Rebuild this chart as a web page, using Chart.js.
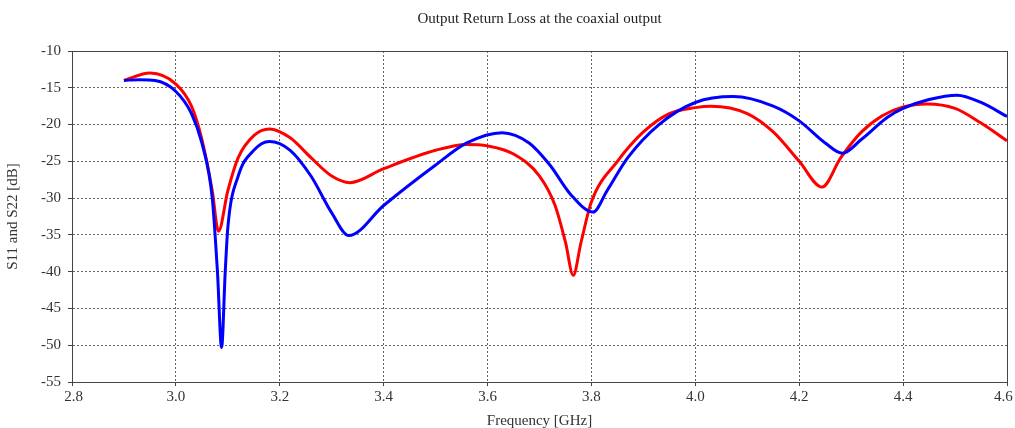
<!DOCTYPE html>
<html>
<head>
<meta charset="utf-8">
<script src="https://cdn.jsdelivr.net/npm/chart.js@4"></script>
<style>
  html, body { margin: 0; padding: 0; background: #fff; }
  #wrap { width: 1015px; height: 428px; }
</style>
</head>
<body>
<div id="wrap"><canvas id="chart"></canvas></div>
<script>
const chartTitle = 'Output Return Loss at the coaxial output';

// red trace
const redFreq = [2.9, 2.95, 3.0, 3.03, 3.05, 3.07, 3.082, 3.1, 3.12, 3.15, 3.18, 3.22, 3.26, 3.3, 3.335, 3.4, 3.5, 3.56, 3.6, 3.65, 3.7, 3.73, 3.75, 3.765, 3.78, 3.8, 3.85, 3.9, 3.95, 4.0, 4.03, 4.1, 4.15, 4.2, 4.244, 4.28, 4.32, 4.36, 4.4, 4.446, 4.5, 4.55, 4.6];
const redDb = [-14, -13, -14.5, -17.5, -22, -29, -34.5, -29, -24.5, -21.5, -20.6, -21.8, -24.5, -27, -27.9, -26, -23.5, -22.7, -22.9, -24, -27, -31, -36, -40.5, -36, -30.5, -25, -21, -18.5, -17.7, -17.5, -18.5, -21, -25, -28.5, -24.5, -21, -18.8, -17.6, -17.2, -17.8, -19.8, -22.2];

// blue trace
const blueFreq = [2.9, 2.93, 2.96, 3.0, 3.03, 3.05, 3.07, 3.08, 3.088, 3.095, 3.1, 3.12, 3.15, 3.18, 3.22, 3.26, 3.3, 3.333, 3.4, 3.5, 3.56, 3.628, 3.68, 3.72, 3.76, 3.803, 3.83, 3.87, 3.93, 4.0, 4.073, 4.15, 4.2, 4.25, 4.283, 4.32, 4.37, 4.4, 4.45, 4.504, 4.55, 4.6];
const blueDb = [-14, -13.9, -14, -15.5, -18.5, -22.5, -30, -40, -50.3, -40, -34, -27, -23.5, -22.3, -23.5, -27, -32, -35.1, -31, -25.5, -22.5, -21.1, -22.5, -25.5, -29.5, -31.9, -29, -24.5, -20, -17, -16.2, -17.5, -19.5, -22.5, -23.9, -22, -19, -17.8, -16.6, -16, -17, -18.9];

const xTicks = [2.8, 3.0, 3.2, 3.4, 3.6, 3.8, 4.0, 4.2, 4.4, 4.6];

const toPoints = (xs, ys) => xs.map((x, i) => ({x: x, y: ys[i]}));

const fontFamily = '"Liberation Serif", "Times New Roman", serif';
const font = {family: fontFamily, size: 15};

// frame round the plot + title centred over the plot area
const boxPlugin = {
    id: 'box',
    afterDraw(chart) {
        const a = chart.chartArea;
        const ctx = chart.ctx;
        ctx.save();
        ctx.strokeStyle = '#444';
        ctx.lineWidth = 1;
        ctx.setLineDash([]);
        ctx.strokeRect(Math.round(a.left) + 0.5, Math.round(a.top) + 0.5, Math.round(a.right - a.left), Math.round(a.bottom - a.top));
        ctx.fillStyle = '#222';
        ctx.font = '15px ' + fontFamily;
        ctx.textAlign = 'center';
        ctx.textBaseline = 'middle';
        ctx.fillText(chartTitle, (a.left + a.right) / 2, 19);
        ctx.restore();
    }
};

new Chart(document.getElementById('chart'), {
    type: 'line',
    data: {
        datasets: [
            {
                label: 'S11',
                data: toPoints(blueFreq, blueDb),
                borderColor: '#0000ff',
                borderWidth: 3,
                pointRadius: 0,
                cubicInterpolationMode: 'monotone',
            },
            {
                label: 'S22',
                data: toPoints(redFreq, redDb),
                borderColor: '#ff0000',
                borderWidth: 3,
                pointRadius: 0,
                cubicInterpolationMode: 'monotone',
            }
        ]
    },
    options: {
        responsive: true,
        maintainAspectRatio: false,
        animation: false,
        layout: {padding: {left: 0, right: 8, top: 51, bottom: 0}},
        plugins: {
            legend: {display: false},
            tooltip: {enabled: false},
            title: {display: false}
        },
        scales: {
            x: {
                type: 'linear',
                min: 2.8,
                max: 4.6,
                afterBuildTicks: s => { s.ticks = xTicks.map(v => ({value: v})); },
                afterFit: s => { s.height = 46; s.paddingLeft = 0; s.paddingRight = 0; },
                ticks: {
                    color: '#333',
                    font: font,
                    padding: 2,
                    maxRotation: 0,
                    // nudge the end labels inward so they stay on the canvas
                    callback: (v, i, ticks) => {
                        const t = v.toFixed(1);
                        if (i === 0) return '\u2009' + t;
                        if (i === ticks.length - 1) return t + '\u2002';
                        return t;
                    }
                },
                grid: {
                    color: '#666',
                    tickLength: 4,
                    tickColor: '#444',
                    tickBorderDash: [1, 0]
                },
                border: {display: true, color: '#444', dash: [2, 2]},
                title: {
                    display: true,
                    text: 'Frequency [GHz]',
                    color: '#333',
                    font: font,
                    padding: {top: 0, bottom: -2}
                }
            },
            y: {
                min: -55,
                max: -10,
                afterFit: s => { s.width = 72; s.paddingTop = 0; s.paddingBottom = 0; },
                ticks: {
                    stepSize: 5,
                    color: '#333',
                    font: font,
                    padding: 7
                },
                grid: {
                    color: '#666',
                    tickLength: 4,
                    tickColor: '#444',
                    tickBorderDash: [1, 0]
                },
                border: {display: true, color: '#444', dash: [2, 2]},
                title: {
                    display: true,
                    text: 'S11 and S22 [dB]',
                    color: '#333',
                    font: font,
                    padding: {top: 4, bottom: 0}
                }
            }
        }
    },
    plugins: [boxPlugin]
});
</script>
</body>
</html>
